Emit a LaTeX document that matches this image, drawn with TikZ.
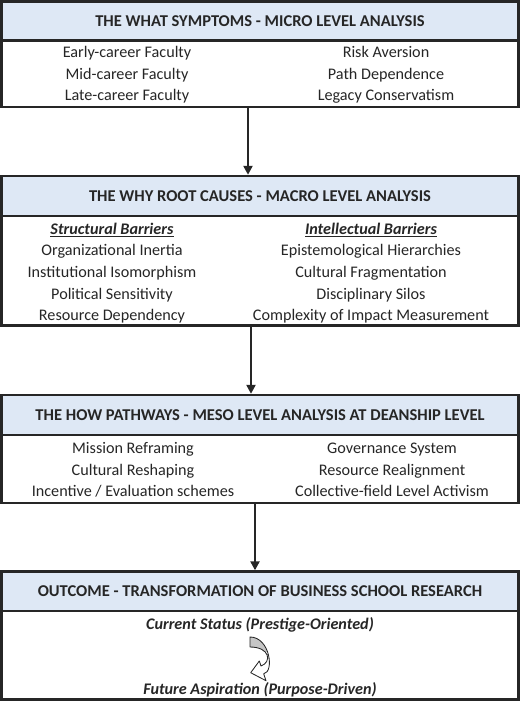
\documentclass[tikz,border=0pt]{standalone}
\usepackage{fontspec}
\setmainfont{Carlito}
\usepackage{xcolor}
\usetikzlibrary{arrows.meta}
\definecolor{headblue}{HTML}{DEE8F5}
\definecolor{linegray}{HTML}{262626}
\def\bendpath{(250, 637) .. controls (270, 637) and (274.5, 672) .. (263.7, 673.8)
    -- (266, 680.7) -- (250.7, 672.7) -- (259.3, 661) -- (261, 666)
    .. controls (272, 662) and (270, 647) .. (250, 647) -- cycle}

\begin{document}
\begin{tikzpicture}[x=0.025cm, y=-0.025cm,
    head/.style={draw=linegray, line width=1.7pt, fill=headblue, rectangle, minimum width=12.925cm, inner sep=0pt, text=linegray, font=\fontsize{11.75}{14}\selectfont\bfseries},
    body/.style={draw=linegray, line width=1.7pt, fill=white, rectangle, minimum width=12.925cm, inner sep=0pt},
    col/.style={align=center, inner sep=0pt, text=linegray, font=\fontsize{11.5}{15.4}\selectfont},
    flow/.style={-{Triangle[length=6.4pt, width=6.4pt]}, draw=linegray, line width=1.9pt}]
    \useasboundingbox (0,0) rectangle (520,701);

    % level 1
    \node[head, minimum height=0.975cm] at (260, 21) (h1) {THE WHAT SYMPTOMS - MICRO LEVEL ANALYSIS};
    \node[body, minimum height=1.6625cm] at (260, 73.75) (b1) {};
    \node[col] at (127, 75) (b1l) {Early-career Faculty\\Mid-career Faculty\\Late-career Faculty};
    \node[col] at (386, 75) (b1r) {Risk Aversion\\Path Dependence\\Legacy Conservatism};

    % level 2
    \node[head, minimum height=1cm] at (260, 196) (h2) {THE WHY ROOT CAUSES - MACRO LEVEL ANALYSIS};
    \node[body, minimum height=2.7375cm] at (260, 270.75) (b2) {};
    \node[col] at (112, 273) (b2l) {\underline{\textbf{\textit{Structural Barriers}}}\\Organizational Inertia\\Institutional Isomorphism\\Political Sensitivity\\Resource Dependency};
    \node[col] at (371, 273) (b2r) {\underline{\textbf{\textit{Intellectual Barriers}}}\\Epistemological Hierarchies\\Cultural Fragmentation\\Disciplinary Silos\\Complexity of Impact Measurement};

    % level 3
    \node[head, minimum height=1cm] at (260, 415) (h3) {THE HOW PATHWAYS - MESO LEVEL ANALYSIS AT DEANSHIP LEVEL};
    \node[body, minimum height=1.7cm] at (260, 469) (b3) {};
    \node[col] at (133, 470) (b3l) {Mission Reframing\\Cultural Reshaping\\Incentive / Evaluation schemes};
    \node[col] at (392, 470) (b3r) {Governance System\\Resource Realignment\\Collective-field Level Activism};

    % outcome
    \node[head, minimum height=0.9875cm] at (260, 591.25) (h4) {OUTCOME - TRANSFORMATION OF BUSINESS SCHOOL RESEARCH};
    \node[body, minimum height=2.2125cm] at (260, 655.25) (b4) {};
    \node[col, font=\fontsize{11.5}{15.4}\selectfont\bfseries\itshape] at (260, 625) (now) {Current Status (Prestige-Oriented)};
    \node[col, font=\fontsize{11.5}{15.4}\selectfont\bfseries\itshape] at (260, 690) (goal) {Future Aspiration (Purpose-Driven)};

    % curved arrow between the two states, grey on its upper part
    \fill[white] \bendpath;
    \begin{scope}
        \clip (240, 630) rectangle (280, 651);
        \fill[gray!45] \bendpath;
    \end{scope}
    \draw[linegray, line width=0.6pt, line join=round] \bendpath;

    \draw[flow] ([xshift=-0.3cm]b1.south) -- ([xshift=-0.3cm]h2.north);
    \draw[flow] ([xshift=-0.225cm]b2.south) -- ([xshift=-0.225cm]h3.north);
    \draw[flow] ([xshift=-0.125cm]b3.south) -- ([xshift=-0.125cm]h4.north);
\end{tikzpicture}
\end{document}
